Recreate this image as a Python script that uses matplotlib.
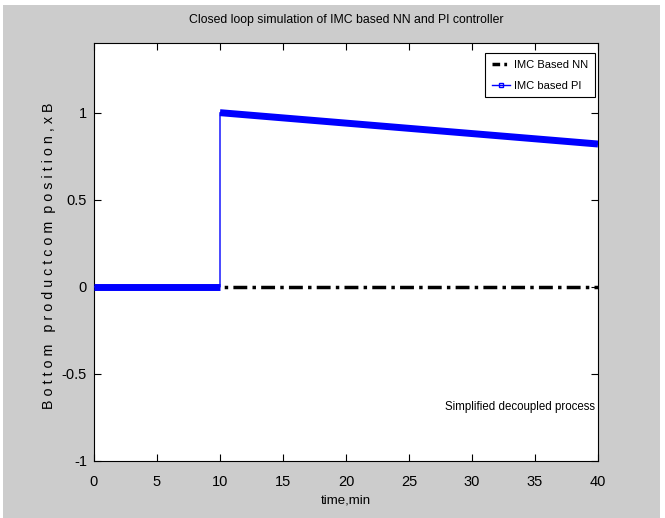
import matplotlib
matplotlib.use("Agg")
import matplotlib.pyplot as plt
from matplotlib.lines import Line2D
from matplotlib.patches import Rectangle

plt.rcParams['font.family'] = ['Liberation Sans', 'DejaVu Sans']

# data
nn_time = [0, 40]
nn_value = [0, 0]
pi_time = [0, 10, 10, 40]
pi_value = [0, 0, 1.0, 0.82]
x_ticks = [0, 5, 10, 15, 20, 25, 30, 35, 40]
y_ticks = [-1, -0.5, 0, 0.5, 1]

W, H = 665, 518
fig = plt.figure(figsize=(W / 100, H / 100), dpi=100, facecolor='white')
fig.patches.append(Rectangle((3 / W, 0), 657 / W, 513 / H,
                             transform=fig.transFigure, facecolor='#cccccc',
                             edgecolor='none', zorder=-1))
ax = fig.add_axes([94 / W, (H - 461) / H, 504 / W, 418 / H])

# PI response: thin line plus thick marker-dense stretches
ax.plot(pi_time, pi_value, color='blue', lw=1, zorder=3)
ax.plot(pi_time[:2], pi_value[:2], color='blue', lw=5, solid_capstyle='butt', zorder=3)
ax.plot(pi_time[2:], pi_value[2:], color='blue', lw=5, solid_capstyle='butt', zorder=3)
ax.plot(nn_time, nn_value, color='black', lw=2.5, ls=(0, (4, 1.5, 1, 1.5)), zorder=2)

ax.set_xlim(0, 40)
ax.set_ylim(-1, 1.4)
ax.set_xticks(x_ticks)
ax.set_yticks(y_ticks)
ax.set_yticklabels(['-1', '-0.5', '0', '0.5', '1'])
ax.tick_params(direction='in', length=5, labelsize=10.5, top=True, right=True)
ax.tick_params(axis='x', pad=10)
ax.tick_params(axis='y', pad=5)
for s in ax.spines.values():
    s.set_linewidth(0.8)

fig.text(0.5 * (94 + 598) / W, (H - 20) / H,
         'Closed loop simulation of IMC based NN and PI controller',
         fontsize=8.8, ha='center', va='center')
ax.set_xlabel('time,min', fontsize=9.5, labelpad=4)
ax.set_ylabel('B o t t o m   p r o d u c t c o m  p o s i t i o n , x B', fontsize=10.3)
ax.yaxis.set_label_coords(-0.075, 0.49)

ax.text(33.8, -0.69, 'Simplified decoupled process', fontsize=8.3, ha='center', va='center')

handles = [Line2D([], [], color='black', lw=2.5, ls=(0, (2.2, 1.2, 0.8, 1.2))),
           Line2D([], [], color='blue', lw=1, marker='s', markersize=3, markerfacecolor='none')]
leg = ax.legend(handles, ['IMC Based NN', 'IMC based PI'], loc='upper right',
                bbox_to_anchor=(595 / W, (H - 53) / H), bbox_transform=fig.transFigure,
                fontsize=8, fancybox=False, framealpha=1, edgecolor='black',
                handlelength=1.6, handletextpad=0.4, borderaxespad=0,
                labelspacing=1.0, borderpad=0.6)
leg.get_frame().set_linewidth(0.8)

fig.savefig('out.png', dpi=100, facecolor=fig.get_facecolor())
